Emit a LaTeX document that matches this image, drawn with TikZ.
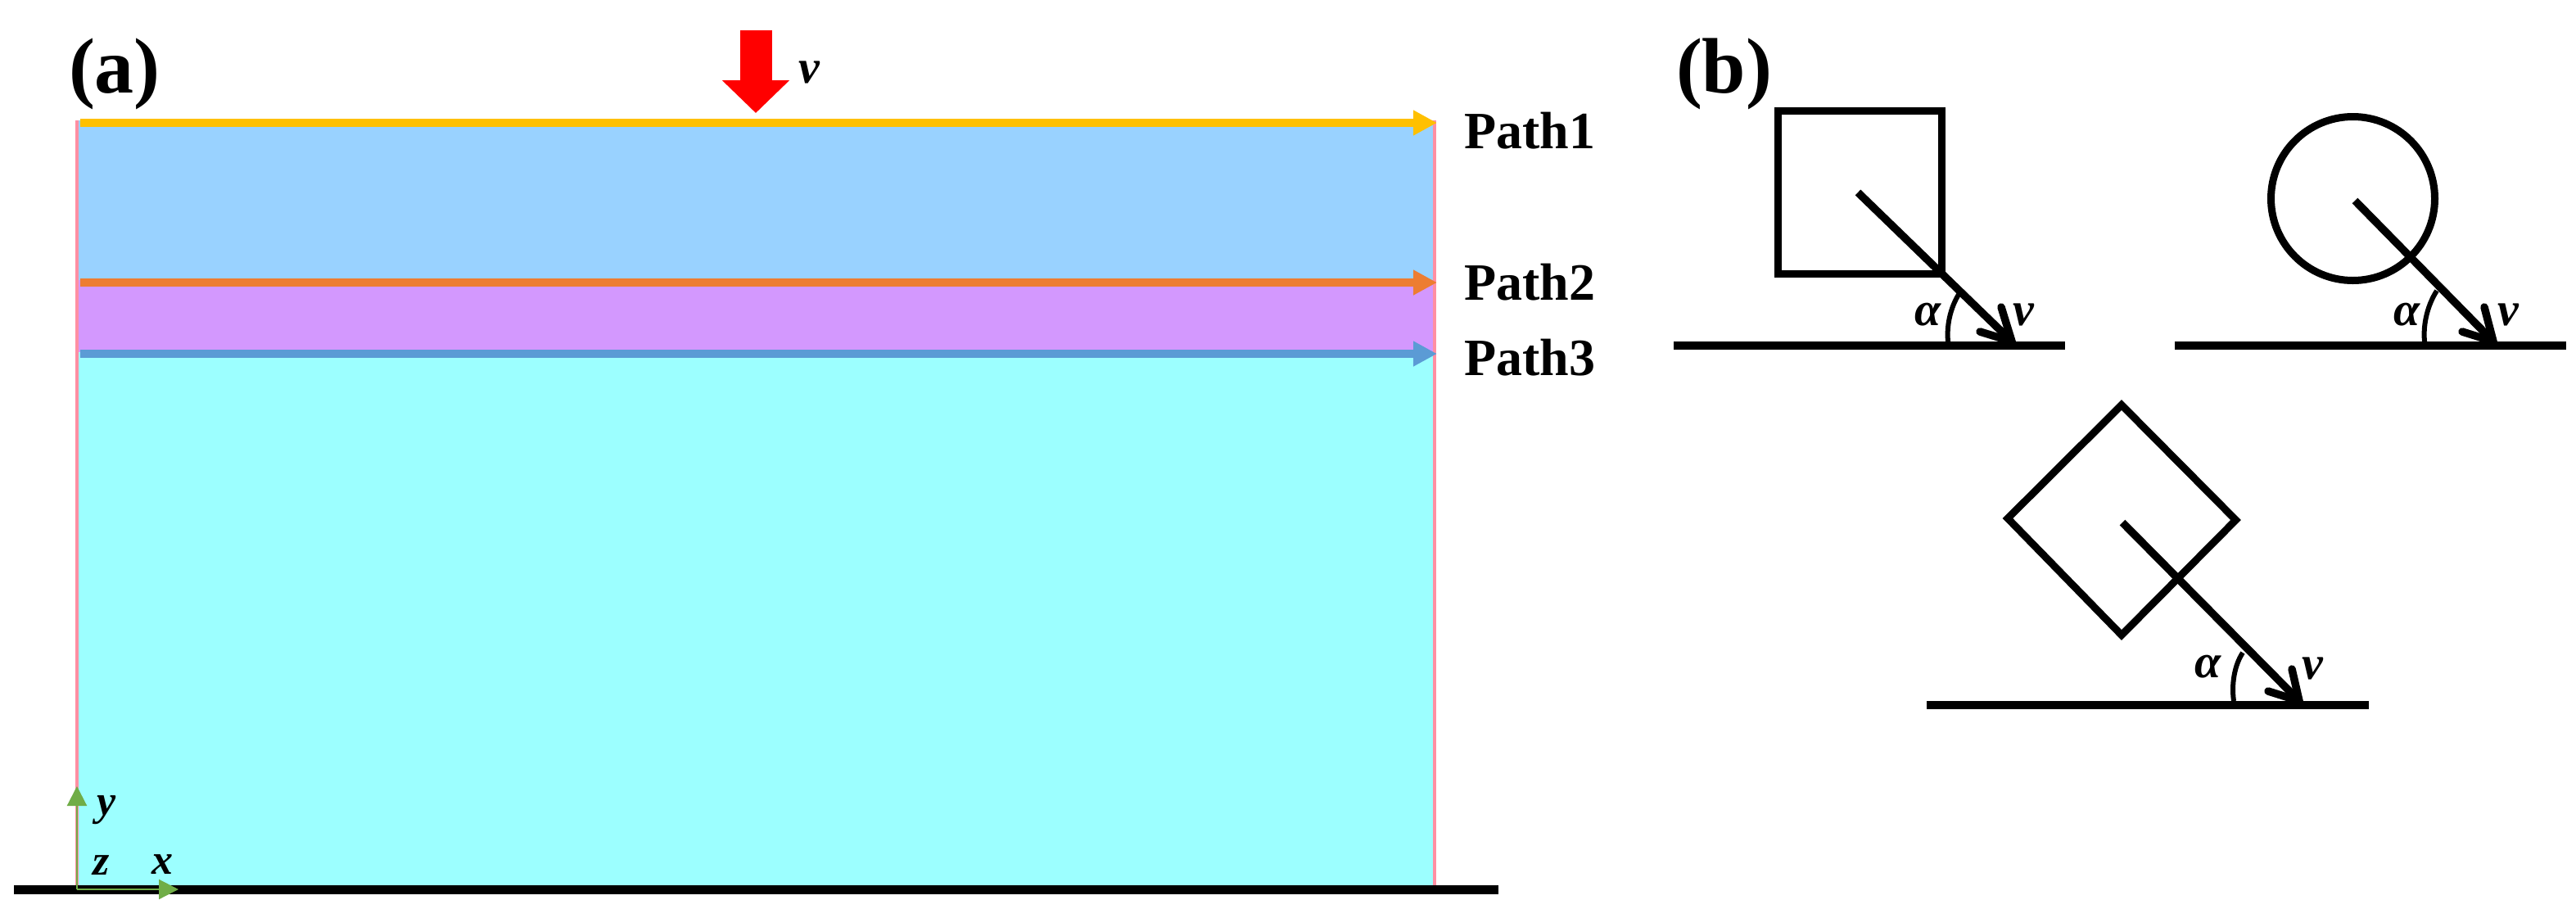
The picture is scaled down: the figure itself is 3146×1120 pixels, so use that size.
\documentclass[tikz,border=0pt]{standalone}
\usepackage{fontspec}
\setmainfont{Liberation Serif}
\usetikzlibrary{arrows.meta}
\definecolor{layerA}{HTML}{99D2FF}
\definecolor{layerB}{HTML}{D398FE}
\definecolor{layerC}{HTML}{9CFFFF}
\definecolor{edgepink}{HTML}{FF8FA3}
\definecolor{pathA}{HTML}{FFC000}
\definecolor{pathB}{HTML}{ED7D31}
\definecolor{pathC}{HTML}{5B9BD5}
\definecolor{axisgreen}{HTML}{70AD47}
\tikzset{
  lbl/.style={inner sep=0pt,outer sep=0pt,anchor=base west},
  panel/.style={lbl,font=\fontsize{96}{100}\selectfont\bfseries},
  pathlbl/.style={lbl,font=\fontsize{64}{70}\selectfont\bfseries},
  varbig/.style={lbl,font=\fontsize{58}{60}\selectfont\bfseries\itshape},
  varaxis/.style={lbl,font=\fontsize{52}{60}\selectfont\bfseries\itshape},
  pathline/.style={line width=10pt,-{Triangle[length=29pt,width=29pt]}},
  axisline/.style={axisgreen,line width=2.2pt,-{Triangle[length=24pt,width=24pt]}},
  ground/.style={line width=10pt,black},
  outlineshape/.style={line width=9pt,black,miter limit=10},
  shaft/.style={line width=9.5pt,black},
  barbs/.style={line width=9.5pt,black,line cap=round,line join=miter},
  anglearc/.style={line width=6pt,black},
}
\begin{document}
\begin{tikzpicture}[x=1pt,y=-1pt]
\useasboundingbox (0,0) rectangle (3146,1120);
\fill[white] (0,0) rectangle (3146,1120);
% layers
\fill[layerA] (94,147) rectangle (1751,342);
\fill[layerB] (94,342) rectangle (1751,430);
\fill[layerC] (94,430) rectangle (1751,1082);
\draw[edgepink,line width=3.5pt] (94,147) -- (94,1082);
\draw[edgepink,line width=4pt] (1752,147) -- (1752,1082);
% base line
\coordinate (bl) at (17,1086);
\coordinate (br) at (1830,1086);
\draw[line width=11pt,black] (bl) -- (br);
% paths
\coordinate (p1a) at (98,150); \coordinate (p1b) at (1755,150);
\coordinate (p2a) at (98,345); \coordinate (p2b) at (1755,345);
\coordinate (p3a) at (98,432); \coordinate (p3b) at (1755,432);
\draw[pathline,pathA] (p1a) -- (p1b);
\draw[pathline,pathB] (p2a) -- (p2b);
\draw[pathline,pathC] (p3a) -- (p3b);
\node[pathlbl] (t1) at (1788,181) {Path1};
\node[pathlbl] (t2) at (1788,366) {Path2};
\node[pathlbl] (t3) at (1788,458) {Path3};
% red arrow
\coordinate (ra) at (923,37); \coordinate (rb) at (923,138);
\draw[red,line width=39pt,-{Triangle[length=40pt,width=80pt]}] (ra) -- (rb);
\node[varbig] (vtop) at (975,101) {v};
\node[panel] (pa) at (84,113) {(a)};
\node[panel] (pb) at (2047,113) {(b)};
% axes
\coordinate (o) at (94,1086);
\coordinate (ax) at (218,1086);
\coordinate (ay) at (94,960);
\draw[axisline] (o) -- (ay);
\draw[axisline] (o) -- (ax);
\node[varaxis] (ty) at (118,995) {y};
\node[varaxis] (tz) at (113,1068) {z};
\node[varaxis] (tx) at (185,1067) {x};
% square case
\draw[outlineshape] (2171,135.5) rectangle (2371,334.5);
\coordinate (g1a) at (2044,421.5); \coordinate (g1b) at (2522,421.5);
\draw[ground] (g1a) -- (g1b);
\coordinate (s1) at (2269,235); \coordinate (e1) at (2457,417);
\coordinate (b1a) at (2418,405); \coordinate (b1b) at (2444,375);
\draw[shaft] (s1) -- (e1);
\draw[barbs] (b1a) -- (e1) -- (b1b);
\coordinate (c1a) at (2379,417); \coordinate (c1b) at (2395,355);
\draw[anglearc] (c1a) .. controls (2377,395) and (2383,372) .. (c1b);
\node[varbig] (a1) at (2338,397) {α};
\node[varbig] (v1) at (2458,397) {v};
% circle case
\draw[outlineshape] (2873.5,242.5) circle[radius=100pt];
\coordinate (g2a) at (2656,421.5); \coordinate (g2b) at (3134,421.5);
\draw[ground] (g2a) -- (g2b);
\coordinate (s2) at (2876,245); \coordinate (e2) at (3045,417);
\coordinate (b2a) at (3007,405); \coordinate (b2b) at (3034,375);
\draw[shaft] (s2) -- (e2);
\draw[barbs] (b2a) -- (e2) -- (b2b);
\coordinate (c2a) at (2961,417); \coordinate (c2b) at (2976,355);
\draw[anglearc] (c2a) .. controls (2959,395) and (2965,372) .. (c2b);
\node[varbig] (a2) at (2923,397) {α};
\node[varbig] (v2) at (3050,397) {v};
% diamond case
\draw[outlineshape] (2591,494.5) -- (2730.5,635) -- (2591,775.5) -- (2452,633) -- cycle;
\coordinate (g3a) at (2353,860.5); \coordinate (g3b) at (2893,860.5);
\draw[ground] (g3a) -- (g3b);
\coordinate (s3) at (2592,638); \coordinate (e3) at (2808,856);
\coordinate (b3a) at (2770,844); \coordinate (b3b) at (2799,817);
\draw[shaft] (s3) -- (e3);
\draw[barbs] (b3a) -- (e3) -- (b3b);
\coordinate (c3a) at (2728,856); \coordinate (c3b) at (2739,797);
\draw[anglearc] (c3a) .. controls (2725,835) and (2729,812) .. (c3b);
\node[varbig] (a3) at (2680,827) {α};
\node[varbig] (v3) at (2811,829) {v};
\end{tikzpicture}
\end{document}
